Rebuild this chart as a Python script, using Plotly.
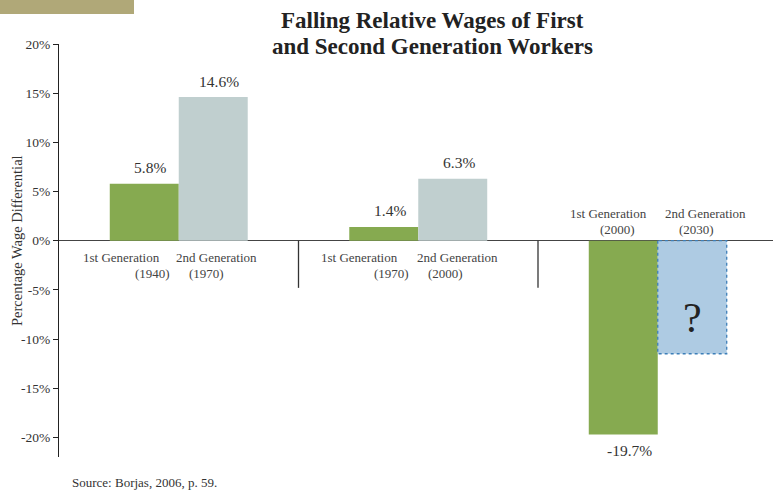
import plotly.graph_objects as go

# ---- data ----
group_pos = [0, 1, 2]
first_gen_label = "1st Generation"
second_gen_label = "2nd Generation"
first_gen_years = ["(1940)", "(1970)", "(2000)"]
second_gen_years = ["(1970)", "(2000)", "(2030)"]
first_gen_values = [5.8, 1.4, -19.7]
second_gen_values = [14.6, 6.3]          # known second-generation outcomes
projected_value = -11.5                  # unknown future ("?") bar extent
tick_vals = [20, 15, 10, 5, 0, -5, -10, -15, -20]
tick_text = ["20%", "15%", "10%", "5%", "0%", "-5%", "-10%", "-15%", "-20%"]
title_lines = ["Falling Relative Wages of First", "and Second Generation Workers"]

FONT = "Liberation Serif"
W = 0.288
GREEN = "#86aa50"
GREY = "#c0cfcf"
BLUE = "#aecbe3"
PH = 413  # plot height px

fig = go.Figure()
fig.add_trace(go.Bar(x=group_pos, y=first_gen_values, offset=-W, width=W,
                     marker=dict(color=GREEN, line=dict(width=0)), hoverinfo="skip"))
fig.add_trace(go.Bar(x=group_pos[:2], y=second_gen_values, offset=0, width=W,
                     marker=dict(color=GREY, line=dict(width=0)), hoverinfo="skip"))
fig.add_trace(go.Bar(x=[group_pos[2]], y=[projected_value], offset=0, width=W,
                     marker=dict(color=BLUE, line=dict(width=0)), hoverinfo="skip"))
# dotted outline of projected bar
px0 = group_pos[2]
fig.add_trace(go.Scatter(x=[px0, px0, px0 + W, px0 + W, px0],
                         y=[0, projected_value, projected_value, 0, 0],
                         mode="lines", line=dict(color="#3d7fb8", width=1.3, dash="dot"),
                         hoverinfo="skip"))

ann = []
vf = dict(size=15.5, color="#333", family=FONT)
for i, v in enumerate(first_gen_values):
    ann.append(dict(x=group_pos[i] - W / 2, y=v, text=f"{v:.1f}%", showarrow=False,
                    xshift=6, yshift=16 if v > 0 else -16, yanchor="middle", font=vf))
for i, v in enumerate(second_gen_values):
    ann.append(dict(x=group_pos[i] + W / 2, y=v, text=f"{v:.1f}%", showarrow=False,
                    xshift=6, yshift=16, yanchor="middle", font=vf))
# question mark
ann.append(dict(x=px0 + W / 2, y=projected_value / 2, text="?", showarrow=False,
                yshift=-21, yanchor="middle", font=dict(size=42, color="#222", family=FONT)))

# category labels (per line offsets from bar centre)
offs = [
    (-23, 8.5, 3.5, -6.5, -17, -33),
    (-24, 7.5, 4.5, -7, -17, -33),
    (-14.5, -6, 13.5, 4, 27, 11),
]
lf = dict(size=13, color="#444", family=FONT)
for i in range(3):
    a, b, c, d, y1, y2 = offs[i]
    cf = group_pos[i] - W / 2
    cs = group_pos[i] + W / 2
    ann.append(dict(x=cf, y=0, text=first_gen_label, showarrow=False, xshift=a, yshift=y1, yanchor="middle", font=lf))
    ann.append(dict(x=cf, y=0, text=first_gen_years[i], showarrow=False, xshift=b, yshift=y2, yanchor="middle", font=lf))
    ann.append(dict(x=cs, y=0, text=second_gen_label, showarrow=False, xshift=c, yshift=y1, yanchor="middle", font=lf))
    ann.append(dict(x=cs, y=0, text=second_gen_years[i], showarrow=False, xshift=d, yshift=y2, yanchor="middle", font=lf))

# title lines
for k, (line, ypx) in enumerate(zip(title_lines, [20, 46])):
    ann.append(dict(xref="paper", yref="paper", x=(432 - 59) / 714, y=1 + (44 - ypx) / PH,
                    text=f"<b>{line}</b>", showarrow=False, xanchor="center", yanchor="middle",
                    font=dict(size=23, color="#222", family=FONT)))

# y title
ann.append(dict(xref="paper", yref="paper", x=(17 - 59) / 714, y=(457 - 241) / PH,
                text="Percentage Wage Differential",
                textangle=-90, showarrow=False, xanchor="center", yanchor="middle",
                font=dict(size=14.5, color="#333", family=FONT)))
# source
ann.append(dict(xref="paper", yref="paper", x=(70 - 59) / 714, y=(457 - 482) / PH,
                xanchor="left", yanchor="middle",
                text="Source: Borjas, 2006, p. 59.", showarrow=False,
                font=dict(size=13, color="#333", family=FONT)))

shapes = [
    dict(type="rect", xref="paper", yref="paper", x0=-59 / 714, x1=(134 - 59) / 714,
         y0=1 + 30 / PH, y1=1 + 44 / PH, fillcolor="#b0a878", line=dict(width=0), layer="above"),
]
for i in range(2):
    m = (group_pos[i] + group_pos[i + 1]) / 2
    shapes.append(dict(type="line", x0=m, x1=m, y0=0, y1=-4.8, xref="x", yref="y",
                       line=dict(color="#333", width=1.3)))

fig.update_layout(
    width=773, height=491,
    margin=dict(l=59, r=0, t=44, b=34),
    paper_bgcolor="white", plot_bgcolor="white",
    showlegend=False, barmode="overlay",
    xaxis=dict(range=[-0.5, -0.5 + 714 / 239.5], visible=False, fixedrange=True),
    yaxis=dict(range=[-22, 20], tickvals=tick_vals, ticktext=tick_text,
               showgrid=False, zeroline=True, zerolinecolor="#444", zerolinewidth=1,
               showline=True, linecolor="#222", linewidth=1.3,
               ticks="outside", ticklen=5, tickcolor="#222", tickwidth=1,
               tickfont=dict(size=13.5, color="#333", family=FONT), fixedrange=True,
               automargin=False),
    annotations=ann, shapes=shapes,
)
fig.write_html("out.html", config={"displayModeBar": False},
               post_script="document.body.style.margin='0';document.body.style.padding='0';")
